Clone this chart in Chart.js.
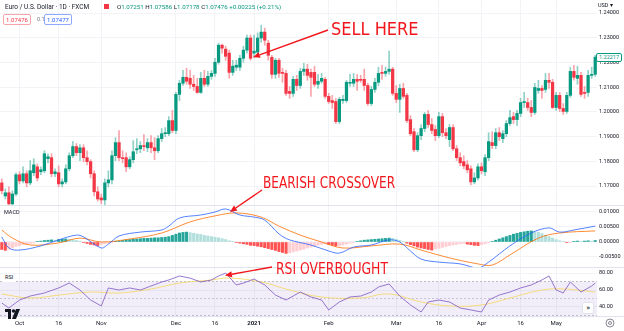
<!DOCTYPE html>
<html lang="en">
<head>
<meta charset="UTF-8">
<title>Euro / U.S. Dollar · 1D · FXCM</title>
<script src="https://cdn.jsdelivr.net/npm/chart.js"></script>
<style>
  html, body { margin: 0; padding: 0; background: #fff; }
  #chart { position: relative; width: 624px; height: 331px; overflow: hidden;
           font-family: Roboto, "Liberation Sans", sans-serif; color: #131722; }
  #chart canvas { position: absolute; left: 0; }
  .sep { position: absolute; left: 0; width: 624px; height: 1px; background: #e0e3eb; }
  .txt { position: absolute; white-space: nowrap; line-height: 1; }
  .box { position: absolute; box-sizing: border-box; border: 1px solid; border-radius: 2px;
         font-size: 6px; line-height: 9px; text-align: center; background: #fff; }
  .k { color: #131722; }
  .note { position: absolute; white-space: nowrap; line-height: 1; color: #f2171c;
          font-family: "Liberation Sans Narrow", "DejaVu Sans Condensed", "Liberation Sans", sans-serif;
          transform-origin: 0 0; }
</style>
</head>
<body>
<div id="chart">
  <canvas id="priceCv" width="624" height="206" style="top:0"></canvas>
  <canvas id="macdCv" width="624" height="62" style="top:206px"></canvas>
  <canvas id="rsiCv" width="624" height="63" style="top:268px"></canvas>

  <div class="sep" style="top:205px"></div>
  <div class="sep" style="top:267px"></div>
  <div class="sep" style="top:316px"></div>

  <!-- header -->
  <div class="txt" style="left:5px;top:4px;font-size:6.5px">Euro / U.S. Dollar · 1D · FXCM</div>
  <div style="position:absolute;left:104px;top:4px;width:5px;height:5px;background:#f23645"></div>
  <div class="txt" style="left:117px;top:4px;font-size:6.2px;color:#089981">
    <span class="k">O</span>1.07251 <span class="k">H</span>1.07586 <span class="k">L</span>1.07178 <span class="k">C</span>1.07476 +0.00225 (+0.21%)
  </div>
  <div class="box" style="left:3px;top:14px;width:28px;height:11px;border-color:#f7a5ab;color:#f23645">1.07476</div>
  <div class="txt" style="left:37px;top:17px;font-size:5.5px;color:#787b86">0.1</div>
  <div class="box" style="left:44px;top:14px;width:28px;height:11px;border-color:#8fa9ff;color:#2962ff">1.07477</div>
  <div class="txt" style="left:598px;top:3px;font-size:5.5px">USD ▾</div>

  <!-- pane titles -->
  <div class="txt" style="left:4px;top:210px;font-size:5.5px">MACD</div>
  <div class="txt" style="left:3px;top:274px;font-size:5.5px;background:#fff;padding:1px 2px">RSI</div>

  <div id="lastPrice" class="box" style="left:596px;width:26px;height:9px;line-height:7px;font-size:5.5px;border-color:#089981;color:#089981">1.22217</div>

  <!-- logo, scroll button, settings -->
  <svg style="position:absolute;left:5px;top:309px" width="16" height="10" viewBox="0 0 16 10">
    <path d="M0 0h6v10h-3v-7h-3z" fill="#131722"/>
    <circle cx="8.5" cy="2" r="1.8" fill="#131722"/>
    <path d="M11 0h4l-4 10h-4z" fill="#131722"/>
  </svg>
  <div class="txt" style="left:582px;top:302px;width:12px;height:12px;background:#fff;border:1px solid #e0e3eb;border-radius:2px;box-sizing:border-box;font-size:8px;line-height:10px;text-align:center">»</div>
  <svg style="position:absolute;left:605px;top:318px" width="10" height="10" viewBox="0 0 10 10">
    <circle cx="5" cy="5" r="4" fill="none" stroke="#787b86" stroke-width="0.9"/>
    <circle cx="5" cy="5" r="1.5" fill="none" stroke="#787b86" stroke-width="0.9"/>
  </svg>

  <!-- annotations -->
  <div class="note" style="left:331px;top:20px;font-size:18px">SELL HERE</div>
  <div class="note" style="left:263px;top:175px;font-size:16px;transform:scaleX(0.84)">BEARISH CROSSOVER</div>
  <div class="note" style="left:276px;top:261px;font-size:16px;transform:scaleX(0.86)">RSI OVERBOUGHT</div>
  <svg id="arrows" width="624" height="331" style="position:absolute;left:0;top:0;pointer-events:none"></svg>
</div>

<script>
// daily candles, EUR/USD
const opens = [
  1.1713, 1.1660, 1.1673, 1.1628, 1.1668, 1.1746, 1.1721, 1.1750, 1.1713, 1.1754,
  1.1778, 1.1758, 1.1762, 1.1811, 1.1815, 1.1750, 1.1754, 1.1709, 1.1717, 1.1770,
  1.1823, 1.1860, 1.1835, 1.1855, 1.1815, 1.1799, 1.1750, 1.1677, 1.1652, 1.1644,
  1.1713, 1.1725, 1.1823, 1.1876, 1.1815, 1.1815, 1.1778, 1.1807, 1.1847, 1.1851,
  1.1864, 1.1855, 1.1876, 1.1855, 1.1843, 1.1892, 1.1912, 1.1912, 1.1965, 1.1925,
  1.2071, 1.2116, 1.2140, 1.2136, 1.2112, 1.2103, 1.2079, 1.2136, 1.2112, 1.2144,
  1.2156, 1.2201, 1.2270, 1.2254, 1.2238, 1.2160, 1.2181, 1.2181, 1.2217, 1.2250,
  1.2299, 1.2238, 1.2242, 1.2299, 1.2323, 1.2278, 1.2221, 1.2152, 1.2209, 1.2160,
  1.2156, 1.2083, 1.2075, 1.2132, 1.2107, 1.2164, 1.2173, 1.2160, 1.2160, 1.2112,
  1.2124, 1.2132, 1.2063, 1.2046, 1.2042, 1.1961, 1.2046, 1.2046, 1.2116, 1.2116,
  1.2132, 1.2132, 1.2132, 1.2107, 1.2034, 1.2091, 1.2120, 1.2160, 1.2156, 1.2164,
  1.2173, 1.2075, 1.2051, 1.2095, 1.2067, 1.1969, 1.1920, 1.1847, 1.1904, 1.1933,
  1.1990, 1.1949, 1.1929, 1.1904, 1.1981, 1.1916, 1.1888, 1.1937, 1.1851, 1.1815,
  1.1799, 1.1786, 1.1770, 1.1717, 1.1733, 1.1778, 1.1758, 1.1815, 1.1876, 1.1864,
  1.1916, 1.1892, 1.1912, 1.1953, 1.1981, 1.1969, 1.1994, 1.2038, 1.2038, 1.2018,
  1.1998, 1.2087, 1.2095, 1.2091, 1.2128, 1.2120, 1.2018, 1.2067, 1.2014, 1.2002,
  1.2067, 1.2164, 1.2136, 1.2148, 1.2079, 1.2079, 1.2148, 1.2152
];
const highs = [
  1.1729, 1.1689, 1.1697, 1.1681, 1.1754, 1.1758, 1.1778, 1.1762, 1.1803, 1.1811,
  1.1790, 1.1778, 1.1843, 1.1831, 1.1831, 1.1770, 1.1782, 1.1729, 1.1786, 1.1835,
  1.1880, 1.1872, 1.1868, 1.1868, 1.1843, 1.1807, 1.1762, 1.1697, 1.1668, 1.1729,
  1.1762, 1.1843, 1.1896, 1.1925, 1.1843, 1.1835, 1.1819, 1.1884, 1.1892, 1.1880,
  1.1908, 1.1892, 1.1904, 1.1896, 1.1904, 1.1933, 1.1937, 1.1981, 1.2006, 1.2079,
  1.2128, 1.2168, 1.2177, 1.2168, 1.2148, 1.2136, 1.2160, 1.2168, 1.2164, 1.2168,
  1.2217, 1.2278, 1.2274, 1.2266, 1.2250, 1.2209, 1.2209, 1.2229, 1.2266, 1.2311,
  1.2311, 1.2311, 1.2319, 1.2351, 1.2339, 1.2290, 1.2229, 1.2217, 1.2217, 1.2177,
  1.2168, 1.2103, 1.2144, 1.2148, 1.2177, 1.2197, 1.2193, 1.2173, 1.2185, 1.2152,
  1.2156, 1.2140, 1.2075, 1.2067, 1.2055, 1.2059, 1.2067, 1.2128, 1.2152, 1.2156,
  1.2152, 1.2148, 1.2173, 1.2116, 1.2103, 1.2136, 1.2181, 1.2189, 1.2181, 1.2246,
  1.2181, 1.2107, 1.2112, 1.2116, 1.2075, 1.1985, 1.1933, 1.1916, 1.1949, 1.1998,
  1.2006, 1.1973, 1.1945, 1.1998, 1.1994, 1.1933, 1.1949, 1.1949, 1.1864, 1.1835,
  1.1823, 1.1803, 1.1782, 1.1754, 1.1790, 1.1794, 1.1827, 1.1916, 1.1920, 1.1933,
  1.1937, 1.1925, 1.1965, 1.2006, 1.1998, 1.2006, 1.2055, 1.2079, 1.2055, 1.2046,
  1.2116, 1.2128, 1.2107, 1.2156, 1.2156, 1.2132, 1.2079, 1.2079, 1.2034, 1.2079,
  1.2181, 1.2189, 1.2185, 1.2160, 1.2103, 1.2168, 1.2181, 1.2229
];
const lows = [
  1.1668, 1.1648, 1.1620, 1.1616, 1.1660, 1.1709, 1.1713, 1.1697, 1.1705, 1.1742,
  1.1721, 1.1746, 1.1754, 1.1794, 1.1738, 1.1738, 1.1697, 1.1697, 1.1709, 1.1762,
  1.1815, 1.1823, 1.1803, 1.1799, 1.1786, 1.1733, 1.1660, 1.1640, 1.1628, 1.1620,
  1.1697, 1.1709, 1.1803, 1.1803, 1.1794, 1.1758, 1.1770, 1.1794, 1.1831, 1.1835,
  1.1843, 1.1839, 1.1835, 1.1807, 1.1835, 1.1880, 1.1900, 1.1904, 1.1916, 1.1912,
  1.2046, 1.2107, 1.2112, 1.2095, 1.2087, 1.2075, 1.2075, 1.2103, 1.2103, 1.2132,
  1.2144, 1.2193, 1.2238, 1.2209, 1.2136, 1.2148, 1.2168, 1.2168, 1.2201, 1.2238,
  1.2209, 1.2221, 1.2229, 1.2282, 1.2270, 1.2209, 1.2136, 1.2136, 1.2140, 1.2120,
  1.2067, 1.2055, 1.2063, 1.2087, 1.2095, 1.2148, 1.2128, 1.2063, 1.2103, 1.2095,
  1.2116, 1.2055, 1.2034, 1.2014, 1.1953, 1.1953, 1.2034, 1.2038, 1.2103, 1.2103,
  1.2087, 1.2120, 1.2087, 1.2026, 1.2026, 1.2079, 1.2107, 1.2132, 1.2144, 1.2152,
  1.2067, 1.2038, 1.1998, 1.2055, 1.1957, 1.1904, 1.1839, 1.1839, 1.1888, 1.1920,
  1.1937, 1.1912, 1.1884, 1.1896, 1.1900, 1.1892, 1.1860, 1.1843, 1.1803, 1.1782,
  1.1770, 1.1754, 1.1705, 1.1709, 1.1725, 1.1750, 1.1742, 1.1803, 1.1851, 1.1851,
  1.1884, 1.1876, 1.1900, 1.1945, 1.1953, 1.1945, 1.1981, 1.2018, 1.2006, 1.1981,
  1.1990, 1.2075, 1.2055, 1.2079, 1.2095, 1.2014, 1.2006, 1.2002, 1.1990, 1.1994,
  1.2059, 1.2128, 1.2112, 1.2063, 1.2055, 1.2063, 1.2136, 1.2144
];
const closes = [
  1.1681, 1.1673, 1.1628, 1.1668, 1.1746, 1.1721, 1.1750, 1.1713, 1.1762, 1.1786,
  1.1733, 1.1766, 1.1831, 1.1819, 1.1750, 1.1758, 1.1709, 1.1717, 1.1770, 1.1823,
  1.1860, 1.1835, 1.1855, 1.1815, 1.1799, 1.1750, 1.1677, 1.1648, 1.1644, 1.1713,
  1.1725, 1.1823, 1.1876, 1.1815, 1.1811, 1.1778, 1.1807, 1.1839, 1.1851, 1.1864,
  1.1860, 1.1876, 1.1855, 1.1843, 1.1892, 1.1912, 1.1916, 1.1965, 1.1925, 1.2071,
  1.2116, 1.2140, 1.2124, 1.2112, 1.2103, 1.2079, 1.2136, 1.2112, 1.2144, 1.2156,
  1.2201, 1.2270, 1.2258, 1.2225, 1.2160, 1.2185, 1.2189, 1.2217, 1.2250, 1.2299,
  1.2217, 1.2246, 1.2299, 1.2323, 1.2290, 1.2229, 1.2152, 1.2209, 1.2156, 1.2156,
  1.2075, 1.2075, 1.2132, 1.2107, 1.2164, 1.2173, 1.2148, 1.2140, 1.2112, 1.2124,
  1.2136, 1.2063, 1.2042, 1.2038, 1.1961, 1.2051, 1.2051, 1.2120, 1.2120, 1.2132,
  1.2124, 1.2128, 1.2107, 1.2034, 1.2091, 1.2120, 1.2156, 1.2156, 1.2164, 1.2173,
  1.2075, 1.2051, 1.2095, 1.2063, 1.1965, 1.1912, 1.1847, 1.1904, 1.1933, 1.1990,
  1.1949, 1.1925, 1.1904, 1.1981, 1.1916, 1.1904, 1.1937, 1.1851, 1.1815, 1.1794,
  1.1782, 1.1766, 1.1717, 1.1733, 1.1778, 1.1762, 1.1815, 1.1880, 1.1864, 1.1916,
  1.1900, 1.1912, 1.1953, 1.1977, 1.1969, 1.1994, 1.2038, 1.2042, 1.2018, 1.1998,
  1.2099, 1.2095, 1.2087, 1.2128, 1.2120, 1.2018, 1.2067, 1.2014, 1.2002, 1.2067,
  1.2164, 1.2140, 1.2148, 1.2071, 1.2075, 1.2148, 1.2152, 1.22217
];

// time axis: bar index of each labelled date
const tickIdx = [5, 16, 28, 49, 60, 71, 92, 111, 123, 135, 146, 156];
const tickLabels = ['Oct', '16', 'Nov', 'Dec', '16', '2021', 'Feb', 'Mar', '16', 'Apr', '16', 'May'];

// price scale
const priceTicks = [1.17, 1.18, 1.19, 1.20, 1.21, 1.22, 1.23, 1.24];

// MACD (12, 26, 9)
const macdIdx = [0, 2, 5, 11, 16, 21, 23, 28, 30, 33, 39, 45, 47, 50, 56, 60, 63, 67, 71, 74,
  78, 81, 87, 92, 95, 99, 104, 109, 112, 115, 118, 123, 129, 134, 137, 143, 149, 154, 157, 161, 167];
const macdLine = [0.0017, -0.0020, -0.0027, -0.0013, 0.0007, 0.0023, 0.0017, -0.0020, -0.0007, 0.0020,
  0.0033, 0.0040, 0.0053, 0.0080, 0.0090, 0.0100, 0.0110, 0.0090, 0.0083, 0.0073,
  0.0027, 0.0007, -0.0010, -0.0030, -0.0037, -0.0017, -0.0010, 0.0007, 0.0000, -0.0030,
  -0.0057, -0.0067, -0.0073, -0.0087, -0.0067, -0.0013, 0.0030, 0.0047, 0.0033, 0.0040, 0.0053];
const signalIdx = [0, 3, 8, 16, 22, 28, 36, 45, 53, 60, 66, 73, 78, 84, 90, 96, 104, 112, 118, 126,
  134, 138, 143, 151, 157, 167];
const signalLine = [0.0040, 0.0013, -0.0010, -0.0003, 0.0013, 0.0000, 0.0010, 0.0030, 0.0067, 0.0087,
  0.0097, 0.0083, 0.0053, 0.0023, 0.0000, -0.0020, -0.0013, -0.0007, -0.0027, -0.0053,
  -0.0073, -0.0077, -0.0043, 0.0013, 0.0030, 0.0037];
const histogram = [
  -0.0025, -0.0028, -0.0024, -0.0020, -0.0015, -0.0012, -0.0009, -0.0007, -0.0005, -0.0003,
  0.0002, 0.0003, 0.0005, 0.0006, 0.0007, 0.0006, 0.0008, 0.0009, 0.0010, 0.0009,
  0.0007, 0.0005, 0.0003, -0.0002, -0.0005, -0.0008, -0.0010, -0.0012, -0.0009, -0.0006,
  -0.0004, -0.0002, 0.0001, 0.0003, 0.0005, 0.0007, 0.0008, 0.0009, 0.0010, 0.0011,
  0.0012, 0.0012, 0.0013, 0.0014, 0.0014, 0.0015, 0.0016, 0.0018, 0.0022, 0.0026,
  0.0030, 0.0032, 0.0033, 0.0031, 0.0029, 0.0027, 0.0025, 0.0022, 0.0020, 0.0018,
  0.0016, 0.0014, 0.0011, 0.0008, 0.0004, 0.0001, -0.0002, -0.0004, -0.0006, -0.0008,
  -0.0011, -0.0012, -0.0014, -0.0016, -0.0019, -0.0022, -0.0025, -0.0028, -0.0032, -0.0035,
  -0.0038, -0.0036, -0.0033, -0.0030, -0.0027, -0.0024, -0.0020, -0.0017, -0.0014, -0.0011,
  -0.0008, -0.0006, -0.0008, -0.0011, -0.0013, -0.0012, -0.0010, -0.0007, -0.0004, -0.0001,
  0.0002, 0.0004, 0.0006, 0.0007, 0.0008, 0.0009, 0.0010, 0.0011, 0.0012, 0.0013,
  0.0012, 0.0009, 0.0005, 0.0001, -0.0004, -0.0009, -0.0013, -0.0017, -0.0020, -0.0022,
  -0.0025, -0.0027, -0.0024, -0.0021, -0.0018, -0.0015, -0.0012, -0.0010, -0.0008, -0.0006,
  -0.0005, -0.0007, -0.0009, -0.0011, -0.0012, -0.0009, -0.0006, -0.0003, 0.0002, 0.0006,
  0.0010, 0.0014, 0.0018, 0.0022, 0.0026, 0.0029, 0.0032, 0.0034, 0.0036, 0.0037,
  0.0035, 0.0032, 0.0028, 0.0023, 0.0018, 0.0013, 0.0008, 0.0004, 0.0002, -0.0002,
  -0.0001, 0.0001, 0.0003, 0.0002, 0.0003, 0.0004, 0.0003, 0.0005
];
const macdTicks = [-0.005, 0, 0.005, 0.01];

// RSI (14) with its moving average
const rsiIdx = [0, 2, 5, 8, 12, 16, 19, 22, 25, 28, 30, 33, 36, 39, 42, 45, 47, 50, 53, 56,
  59, 61, 63, 66, 68, 71, 74, 77, 80, 84, 87, 90, 92, 95, 98, 101, 104, 106, 109, 112,
  115, 118, 120, 123, 126, 129, 132, 135, 137, 140, 143, 146, 149, 152, 154, 156, 158, 160, 163, 166, 167];
const rsiLine = [44.7, 38.8, 48.2, 52.9, 56.5, 62.4, 68.2, 60.0, 48.2, 41.2,
  62.4, 60.0, 62.4, 60.0, 64.7, 69.4, 71.8, 76.5, 74.0, 69.4,
  71.8, 76.5, 80.0, 65.9, 68.2, 72.9, 65.9, 54.1, 48.2, 57.6,
  51.8, 48.2, 36.5, 45.9, 51.8, 52.9, 57.6, 63.5, 67.1, 52.9,
  42.4, 34.1, 45.9, 48.2, 45.9, 38.8, 36.5, 34.1, 48.2, 54.1,
  57.6, 62.4, 65.9, 71.8, 76.5, 60.0, 56.5, 69.4, 57.6, 64.7, 68.2];
const rsiMaIdx = [0, 8, 16, 25, 33, 42, 50, 59, 64, 73, 81, 90, 101, 109, 118, 126, 135, 143, 152, 158, 167];
const rsiMa = [55.3, 50.6, 54.0, 57.6, 56.5, 61.2, 68.2, 71.8, 74.1, 69.4,
  60.0, 51.8, 50.6, 55.3, 45.9, 41.2, 42.4, 50.6, 60.0, 61.2, 57.6];
const rsiTicks = [40, 60, 80];
const rsiBands = [70, 50, 30];

const UP = '#089981', DOWN = '#f23645';
const UP_WICK = 'rgba(8,153,129,0.45)', DOWN_WICK = 'rgba(242,54,69,0.45)';
const AXIS_W = 27;
const GRID = '#f2f3f7';
const nBars = opens.length;

function xAxis(showLabels) {
  return {
    type: 'linear', min: -0.5, max: nBars - 0.5, offset: false,
    afterBuildTicks: s => { s.ticks = tickIdx.map(v => ({ value: v })); },
    afterFit: s => { s.height = showLabels ? 15 : 0; s.paddingLeft = 0; s.paddingRight = 0; },
    grid: { color: GRID, drawTicks: false, offset: false },
    border: { display: false },
    ticks: {
      display: showLabels, autoSkip: false, maxRotation: 0, padding: 4, color: '#131722',
      font: ctx => ({ size: 6, family: 'Roboto', weight: tickLabels[ctx.index] === '2021' ? 'bold' : 'normal' }),
      callback: (v, i) => tickLabels[i]
    }
  };
}

function yAxis(min, max, ticks, fmt) {
  return {
    position: 'right', min, max, bounds: 'data',
    afterBuildTicks: s => { s.ticks = ticks.map(v => ({ value: v })); },
    afterFit: s => { s.width = AXIS_W; s.paddingTop = 0; s.paddingBottom = 0; },
    grid: { color: GRID, drawTicks: false },
    border: { display: false },
    ticks: { padding: 2, color: '#131722', font: { size: 5.5, family: 'Roboto' }, callback: fmt }
  };
}

const base = {
  responsive: false, animation: false, devicePixelRatio: 1, events: [],
  layout: { padding: 0 },
  plugins: { legend: { display: false }, tooltip: { enabled: false } }
};

const isUp = closes.map((c, i) => c >= opens[i]);

const priceChart = new Chart(document.getElementById('priceCv'), {
  type: 'bar',
  data: {
    datasets: [
      { // bodies
        data: opens.map((o, i) => ({ x: i, y: [o, closes[i]] })),
        backgroundColor: isUp.map(u => u ? UP : DOWN),
        barThickness: 2.6, grouped: false
      },
      { // wicks
        data: lows.map((l, i) => ({ x: i, y: [l, highs[i]] })),
        backgroundColor: isUp.map(u => u ? UP_WICK : DOWN_WICK),
        barThickness: 1, grouped: false
      }
    ]
  },
  options: Object.assign({}, base, {
    scales: {
      x: xAxis(false),
      y: yAxis(1.16195, 1.24528, priceTicks, v => v.toFixed(5))
    }
  })
});

// histogram colours: dark when growing away from zero, light when shrinking
const histColors = histogram.map((v, i) => {
  const prev = i > 0 ? histogram[i - 1] : v;
  if (v >= 0) return v >= prev ? '#26a69a' : '#b2dfdb';
  return v <= prev ? '#ff5252' : '#ffcdd2';
});

const macdChart = new Chart(document.getElementById('macdCv'), {
  data: {
    datasets: [
      { type: 'line', data: macdIdx.map((x, i) => ({ x, y: macdLine[i] })),
        borderColor: '#2962ff', borderWidth: 0.8, pointRadius: 0, tension: 0.35 },
      { type: 'line', data: signalIdx.map((x, i) => ({ x, y: signalLine[i] })),
        borderColor: '#ff6d00', borderWidth: 0.8, pointRadius: 0, tension: 0.35 },
      { type: 'bar', data: histogram.map((y, x) => ({ x, y })),
        backgroundColor: histColors, barThickness: 2.4, grouped: false }
    ]
  },
  options: Object.assign({}, base, {
    scales: {
      x: xAxis(false),
      y: yAxis(-0.00867, 0.012, macdTicks, v => v.toFixed(5))
    }
  })
});

const level = v => [{ x: -0.5, y: v }, { x: nBars - 0.5, y: v }];

const rsiChart = new Chart(document.getElementById('rsiCv'), {
  type: 'line',
  data: {
    datasets: [
      { data: rsiIdx.map((x, i) => ({ x, y: rsiLine[i] })),
        borderColor: '#7e57c2', borderWidth: 0.8, pointRadius: 0, tension: 0 },
      { data: rsiMaIdx.map((x, i) => ({ x, y: rsiMa[i] })),
        borderColor: '#f5d55c', borderWidth: 0.8, pointRadius: 0, tension: 0.4 },
      { data: level(rsiBands[0]), borderColor: '#9598a1', borderWidth: 0.6, borderDash: [2, 2],
        pointRadius: 0, fill: '+2', backgroundColor: 'rgba(126,87,194,0.1)' },
      { data: level(rsiBands[1]), borderColor: '#b2b5be', borderWidth: 0.6, borderDash: [2, 2], pointRadius: 0 },
      { data: level(rsiBands[2]), borderColor: '#9598a1', borderWidth: 0.6, borderDash: [2, 2], pointRadius: 0 }
    ]
  },
  options: Object.assign({}, base, {
    scales: {
      x: xAxis(true),
      y: yAxis(29.4, 85.9, rsiTicks, v => v.toFixed(2))
    }
  })
});

// last price tag on the price scale
const lastY = priceChart.scales.y.getPixelForValue(closes[nBars - 1]);
document.getElementById('lastPrice').style.top = (lastY - 4.5) + 'px';

// annotation arrows pointing at chart values
const notes = [
  { chart: priceChart, top: 0, from: [328, 30], x: 70.7, y: 1.2221 },
  { chart: macdChart, top: 206, from: [262, 190], x: 64.2, y: 0.0100 },
  { chart: rsiChart, top: 268, from: [272, 267], x: 62.8, y: 77.0 }
];
const svg = document.getElementById('arrows');
let marks = '';
notes.forEach(n => {
  const tx = n.chart.scales.x.getPixelForValue(n.x);
  const ty = n.chart.scales.y.getPixelForValue(n.y) + n.top;
  const [fx, fy] = n.from;
  const a = Math.atan2(ty - fy, tx - fx);
  const len = 7, w = 3;
  const bx = tx - len * Math.cos(a), by = ty - len * Math.sin(a);
  const p1 = [bx + w * Math.sin(a), by - w * Math.cos(a)];
  const p2 = [bx - w * Math.sin(a), by + w * Math.cos(a)];
  marks += `<line x1="${fx}" y1="${fy}" x2="${bx}" y2="${by}" stroke="#f2171c" stroke-width="1.4"/>`;
  marks += `<polygon points="${tx},${ty} ${p1[0]},${p1[1]} ${p2[0]},${p2[1]}" fill="#f2171c"/>`;
});
svg.innerHTML = marks;
</script>
</body>
</html>
